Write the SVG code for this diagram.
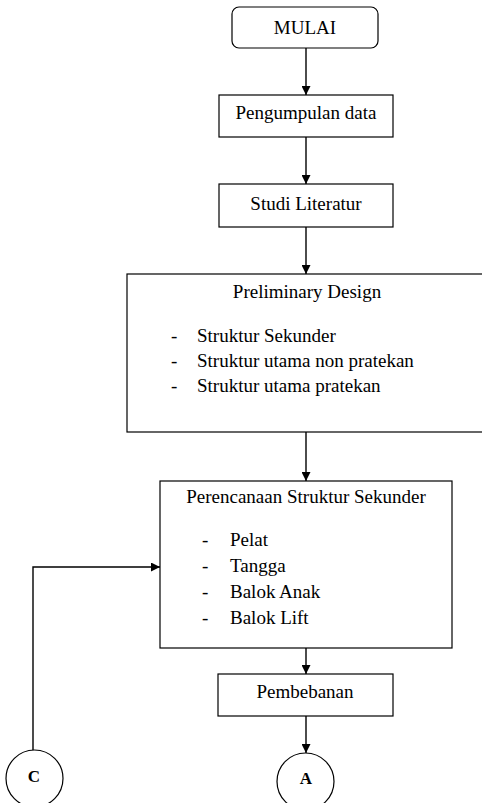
<svg xmlns="http://www.w3.org/2000/svg" width="482" height="803" viewBox="0 0 482 803">
<style>
.box{fill:#fff;stroke:#000;stroke-width:1.2}
.t{font-family:'Liberation Serif','Times New Roman',Tinos,'DejaVu Serif',serif;font-size:19px;fill:#000}
.c{text-anchor:middle}
.b{font-weight:bold;font-size:17px}
.ln{fill:none;stroke:#000;stroke-width:1.4}
</style>
<defs>
<marker id="ah" viewBox="0 0 10 10" refX="10" refY="5" markerWidth="9" markerHeight="9" markerUnits="userSpaceOnUse" orient="auto">
<path d="M0,0 L10,5 L0,10 Z" fill="#000"/>
</marker>
</defs>
<rect width="482" height="803" fill="#fff"/>
<g id="connectors">
<line class="ln" x1="306" y1="48" x2="306" y2="95" marker-end="url(#ah)"/>
<line class="ln" x1="306" y1="137" x2="306" y2="184" marker-end="url(#ah)"/>
<line class="ln" x1="306" y1="227" x2="306" y2="274" marker-end="url(#ah)"/>
<line class="ln" x1="306" y1="432" x2="306" y2="481" marker-end="url(#ah)"/>
<line class="ln" x1="306" y1="648" x2="306" y2="674" marker-end="url(#ah)"/>
<line class="ln" x1="306" y1="716" x2="306" y2="753" marker-end="url(#ah)"/>
<polyline class="ln" points="33,750 33,567 160,567" marker-end="url(#ah)"/>
</g>
<g id="mulai">
<rect class="box" x="232" y="7" width="146" height="41" rx="7"/>
<text class="t c" x="305" y="34" font-family="Liberation Serif, serif">MULAI</text>
</g>
<g id="pengumpulan">
<rect class="box" x="219" y="95" width="174" height="42"/>
<text class="t c" x="306" y="119">Pengumpulan data</text>
</g>
<g id="studi">
<rect class="box" x="219" y="184" width="174" height="43"/>
<text class="t c" x="306" y="210">Studi Literatur</text>
</g>
<g id="preliminary">
<rect class="box" x="127" y="274" width="360" height="158"/>
<text class="t c" x="307" y="298">Preliminary Design</text>
<text class="t" x="171" y="342">-</text>
<text class="t" x="197" y="342">Struktur Sekunder</text>
<text class="t" x="171" y="367">-</text>
<text class="t" x="197" y="367">Struktur utama non pratekan</text>
<text class="t" x="171" y="392">-</text>
<text class="t" x="197" y="392">Struktur utama pratekan</text>
</g>
<g id="perencanaan">
<rect class="box" x="160" y="481" width="292" height="167"/>
<text class="t c" x="306" y="503">Perencanaan Struktur Sekunder</text>
<text class="t" x="202" y="546">-</text>
<text class="t" x="230" y="546">Pelat</text>
<text class="t" x="202" y="572">-</text>
<text class="t" x="230" y="572">Tangga</text>
<text class="t" x="202" y="598">-</text>
<text class="t" x="230" y="598">Balok Anak</text>
<text class="t" x="202" y="624">-</text>
<text class="t" x="230" y="624">Balok Lift</text>
</g>
<g id="pembebanan">
<rect class="box" x="218" y="674" width="175" height="42"/>
<text class="t c" x="305" y="698">Pembebanan</text>
</g>
<g id="circleC">
<circle class="box" cx="34.5" cy="778.5" r="28.5"/>
<text class="t c b" x="34" y="782">C</text>
</g>
<g id="circleA">
<circle class="box" cx="305.5" cy="781.5" r="28.5"/>
<text class="t c b" x="306" y="784">A</text>
</g>
</svg>
